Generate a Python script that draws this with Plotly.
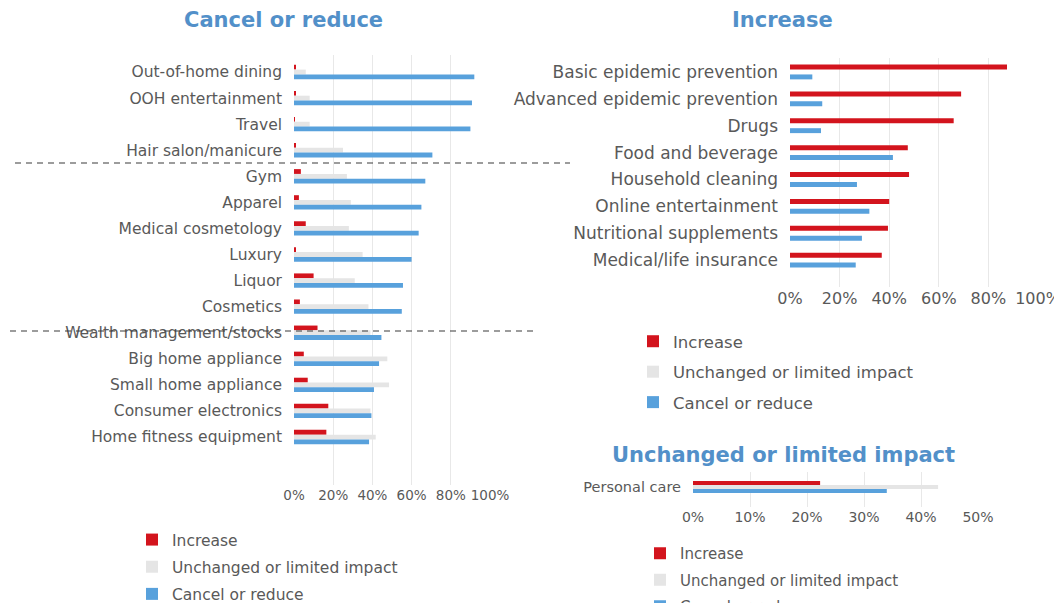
import plotly.graph_objects as go

# The page body keeps an 8px margin, so the figure is sized to the visible area
OFF = 8
W, H = 1062 - OFF, 603 - OFF

# ---------------- data ----------------
series_names = ["Increase", "Unchanged or limited impact", "Cancel or reduce"]

left_categories = ["Out-of-home dining", "OOH entertainment", "Travel", "Hair salon/manicure",
                   "Gym", "Apparel", "Medical cosmetology", "Luxury", "Liquor", "Cosmetics",
                   "Wealth management/stocks", "Big home appliance", "Small home appliance",
                   "Consumer electronics", "Home fitness equipment"]
left_increase = [0.01, 0.01, 0.005, 0.01, 0.035, 0.025, 0.06, 0.01, 0.10, 0.03, 0.12, 0.05, 0.07, 0.175, 0.165]
left_unchanged = [0.06, 0.08, 0.08, 0.25, 0.27, 0.29, 0.28, 0.35, 0.31, 0.38, 0.39, 0.476, 0.485, 0.39, 0.417]
left_cancel = [0.92, 0.908, 0.90, 0.706, 0.67, 0.65, 0.636, 0.60, 0.556, 0.55, 0.446, 0.434, 0.408, 0.395, 0.383]

right_categories = ["Basic epidemic prevention", "Advanced epidemic prevention", "Drugs",
                    "Food and beverage", "Household cleaning", "Online entertainment",
                    "Nutritional supplements", "Medical/life insurance"]
right_increase = [0.875, 0.69, 0.66, 0.475, 0.48, 0.40, 0.395, 0.37]
right_unchanged = [None] * 8
right_cancel = [0.09, 0.13, 0.125, 0.415, 0.27, 0.32, 0.29, 0.265]

bottom_categories = ["Personal care"]
bottom_increase = [0.223]
bottom_unchanged = [0.43]
bottom_cancel = [0.34]

# ---------------- style ----------------
RED = "#d3141d"
GREY = "#e5e5e5"
BLUE = "#58a1dc"
TXT = "#595959"
TITLE = "#5290c9"
GRID = "#e8e8e8"
FONT = "DejaVu Sans"
colors = [RED, GREY, BLUE]

fig = go.Figure()

def add_set(cats, vals, xa, ya, legend, tag):
    for name, v, c in zip(series_names, vals, colors):
        fig.add_trace(go.Bar(
            y=cats, x=v, name=name, orientation="h", marker=dict(color=c, line=dict(width=0)),
            xaxis=xa, yaxis=ya, legend=legend, legendgroup=tag + name,
            offsetgroup=name, hoverinfo="x+y"))

add_set(left_categories, [left_increase, left_unchanged, left_cancel], "x", "y", "legend", "L")
add_set(right_categories, [right_increase, right_unchanged, right_cancel], "x2", "y2", "legend2", "R")
add_set(bottom_categories, [bottom_increase, bottom_unchanged, bottom_cancel], "x3", "y3", "legend3", "B")

def px_x(p):
    return (p - OFF) / W

def px_y(p):
    return 1 - (p - OFF) / H

def xaxis(d0, d1, rng, dtick, size):
    return dict(domain=[px_x(d0), px_x(d1)], range=rng, tickformat=".0%", dtick=dtick, tick0=0,
                showgrid=True, gridcolor=GRID, gridwidth=1, zeroline=False, showline=False,
                ticks="", tickfont=dict(family=FONT, size=size, color=TXT), fixedrange=True,
                automargin=False)

def yaxis(top, bottom, rng, size, anchor):
    return dict(domain=[px_y(bottom), px_y(top)], range=rng, type="category", showgrid=False,
                zeroline=False, showline=False, ticks="", ticklabelstandoff=11,
                tickfont=dict(family=FONT, size=size, color=TXT), anchor=anchor, fixedrange=True,
                automargin=False)

layout = dict(
    width=W, height=H, margin=dict(l=0, r=0, t=0, b=0, autoexpand=False),
    paper_bgcolor="white", plot_bgcolor="white",
    barmode="group", bargap=0.45, bargroupgap=0,
    font=dict(family=FONT, color=TXT),
    xaxis=xaxis(294, 490, [0, 1], 0.2, 13.5) | dict(anchor="y"),
    yaxis=yaxis(55, 485, [15.84, -0.652], 15.5, "x"),
    xaxis2=xaxis(790, 1038, [0, 1], 0.2, 16) | dict(anchor="y2"),
    yaxis2=yaxis(58, 287, [8.0, -0.52], 17, "x2"),
    xaxis3=xaxis(693, 978, [0, 0.5], 0.1, 14) | dict(anchor="y3"),
    yaxis3=yaxis(472, 507, [0.91, -0.68], 14.5, "x3"),
)

def legend(x_text, y_top, size, gap):
    return dict(x=px_x(x_text - 40), y=px_y(y_top), xanchor="left", yanchor="top",
                font=dict(family=FONT, size=size, color=TXT), bgcolor="rgba(0,0,0,0)",
                tracegroupgap=gap, itemwidth=30, traceorder="grouped")

layout["legend"] = legend(172, 523, 15.5, 4)
layout["legend2"] = legend(673, 324, 16.5, 6)
layout["legend3"] = legend(680, 537, 15, 4)
layout["showlegend"] = True

fig.update_layout(**layout)

titles = [("Cancel or reduce", 283, 20), ("Increase", 782, 20), ("Unchanged or limited impact", 783, 455)]
for t, x, y in titles:
    fig.add_annotation(text=t, x=px_x(x), y=px_y(y), xref="paper", yref="paper",
                       xanchor="center", yanchor="middle", showarrow=False,
                       font=dict(family=FONT, size=21, color=TITLE, weight="bold"))

for x0, x1, y in [(15, 570, 163), (10, 535, 331)]:
    fig.add_shape(type="line", xref="paper", yref="paper", x0=px_x(x0), x1=px_x(x1),
                  y0=px_y(y), y1=px_y(y), line=dict(color="#3a3a3a", width=1.2, dash="6px,5px"))

fig.write_html("out.html")
